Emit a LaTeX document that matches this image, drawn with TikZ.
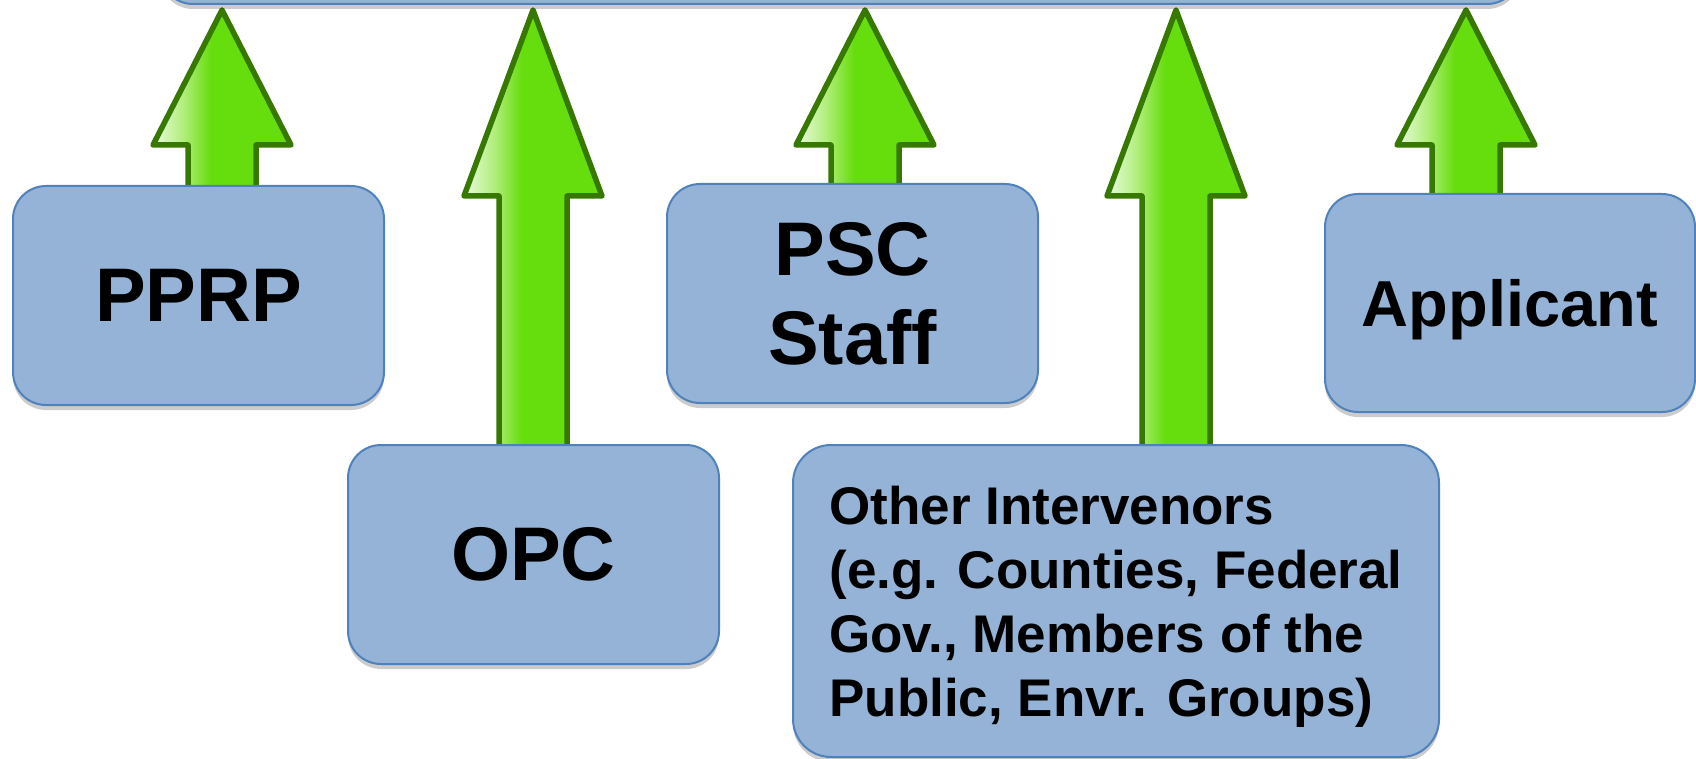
\documentclass[tikz,border=0pt]{standalone}
\usepackage{fontspec}
\setmainfont{Liberation Sans}
\usetikzlibrary{calc,shadows,backgrounds}

\definecolor{boxfill}{HTML}{95B3D7}
\definecolor{boxline}{HTML}{4F81BD}
\definecolor{arrowgreen}{HTML}{66DD0C}
\definecolor{arrowline}{HTML}{377800}
\definecolor{arrowlight}{HTML}{EAFBDF}
\definecolor{arrowmid}{HTML}{B0EE7A}

\pgfdeclarehorizontalshading{arrowshine}{100bp}{color(0bp)=(arrowlight); color(25bp)=(arrowlight); color(36bp)=(arrowmid); color(46bp)=(arrowgreen); color(100bp)=(arrowgreen)}

\tikzset{
	party/.style={draw=boxline, line width=2pt, fill=boxfill, rounded corners=33pt,
		minimum width=371pt, minimum height=219pt, inner sep=0pt, text=black,
		font=\bfseries\fontsize{76}{89}\selectfont,
		drop shadow={shadow xshift=0pt, shadow yshift=-5pt, opacity=0.2, fill=black}},
	uparrow/.style={draw=arrowline, line width=5.5pt, line join=round, shade, shading=arrowshine}
}

\begin{document}
\begin{tikzpicture}[x=1pt,y=-1pt]
	\useasboundingbox (0,0) rectangle (1696,759);
	
	\node[party, minimum width=1360pt, minimum height=80pt] (decision) at (840,-36) {};
	
	\node[party] (pprp) at (198.5,295.5) {PPRP};
	\node[party] (opc) at (533.5,554.5) {OPC};
	\node[party, align=center] (psc) at (852.5,293.5) {PSC\\Staff};
	\node[party, minimum width=646pt, minimum height=312pt, rounded corners=38pt, align=left, text depth=0pt,
	font=\bfseries\fontsize{53}{64}\selectfont] (others) at (1116,601) {Other Intervenors\\(e.g. Counties, Federal\\Gov., Members of the\\Public, Envr. Groups)};
	\node[party, minimum width=370pt, minimum height=218pt, text depth=0pt,
	font=\bfseries\fontsize{65}{78}\selectfont] (applicant) at (1510,303) {Applicant};
	
	\coordinate (pprpaxis) at (222,0);
	\coordinate (opcaxis) at (533,0);
	\coordinate (pscaxis) at (865,0);
	\coordinate (othersaxis) at (1176,0);
	\coordinate (applicantaxis) at (1466,0);
	
	\begin{pgfonlayer}{background}
	\path[uparrow] ($(pprpaxis |- pprp.north)+(-34,8)$) -- ($(pprpaxis |- decision.south)+(-34,140)$) -- ($(pprpaxis |- decision.south)+(-69,140)$) -- ($(pprpaxis |- decision.south)+(0,5)$) -- ($(pprpaxis |- decision.south)+(69,140)$) -- ($(pprpaxis |- decision.south)+(34,140)$) -- ($(pprpaxis |- pprp.north)+(34,8)$) -- cycle;
	
	\path[uparrow] ($(opcaxis |- opc.north)+(-34,8)$) -- ($(opcaxis |- decision.south)+(-34,191)$) -- ($(opcaxis |- decision.south)+(-69,191)$) -- ($(opcaxis |- decision.south)+(0,5)$) -- ($(opcaxis |- decision.south)+(69,191)$) -- ($(opcaxis |- decision.south)+(34,191)$) -- ($(opcaxis |- opc.north)+(34,8)$) -- cycle;
	
	\path[uparrow] ($(pscaxis |- psc.north)+(-34,8)$) -- ($(pscaxis |- decision.south)+(-34,140)$) -- ($(pscaxis |- decision.south)+(-69,140)$) -- ($(pscaxis |- decision.south)+(0,5)$) -- ($(pscaxis |- decision.south)+(69,140)$) -- ($(pscaxis |- decision.south)+(34,140)$) -- ($(pscaxis |- psc.north)+(34,8)$) -- cycle;
	
	\path[uparrow] ($(othersaxis |- others.north)+(-34,8)$) -- ($(othersaxis |- decision.south)+(-34,191)$) -- ($(othersaxis |- decision.south)+(-69,191)$) -- ($(othersaxis |- decision.south)+(0,5)$) -- ($(othersaxis |- decision.south)+(69,191)$) -- ($(othersaxis |- decision.south)+(34,191)$) -- ($(othersaxis |- others.north)+(34,8)$) -- cycle;
	
	\path[uparrow] ($(applicantaxis |- applicant.north)+(-34,8)$) -- ($(applicantaxis |- decision.south)+(-34,140)$) -- ($(applicantaxis |- decision.south)+(-69,140)$) -- ($(applicantaxis |- decision.south)+(0,5)$) -- ($(applicantaxis |- decision.south)+(69,140)$) -- ($(applicantaxis |- decision.south)+(34,140)$) -- ($(applicantaxis |- applicant.north)+(34,8)$) -- cycle;
	\end{pgfonlayer}
\end{tikzpicture}
\end{document}
